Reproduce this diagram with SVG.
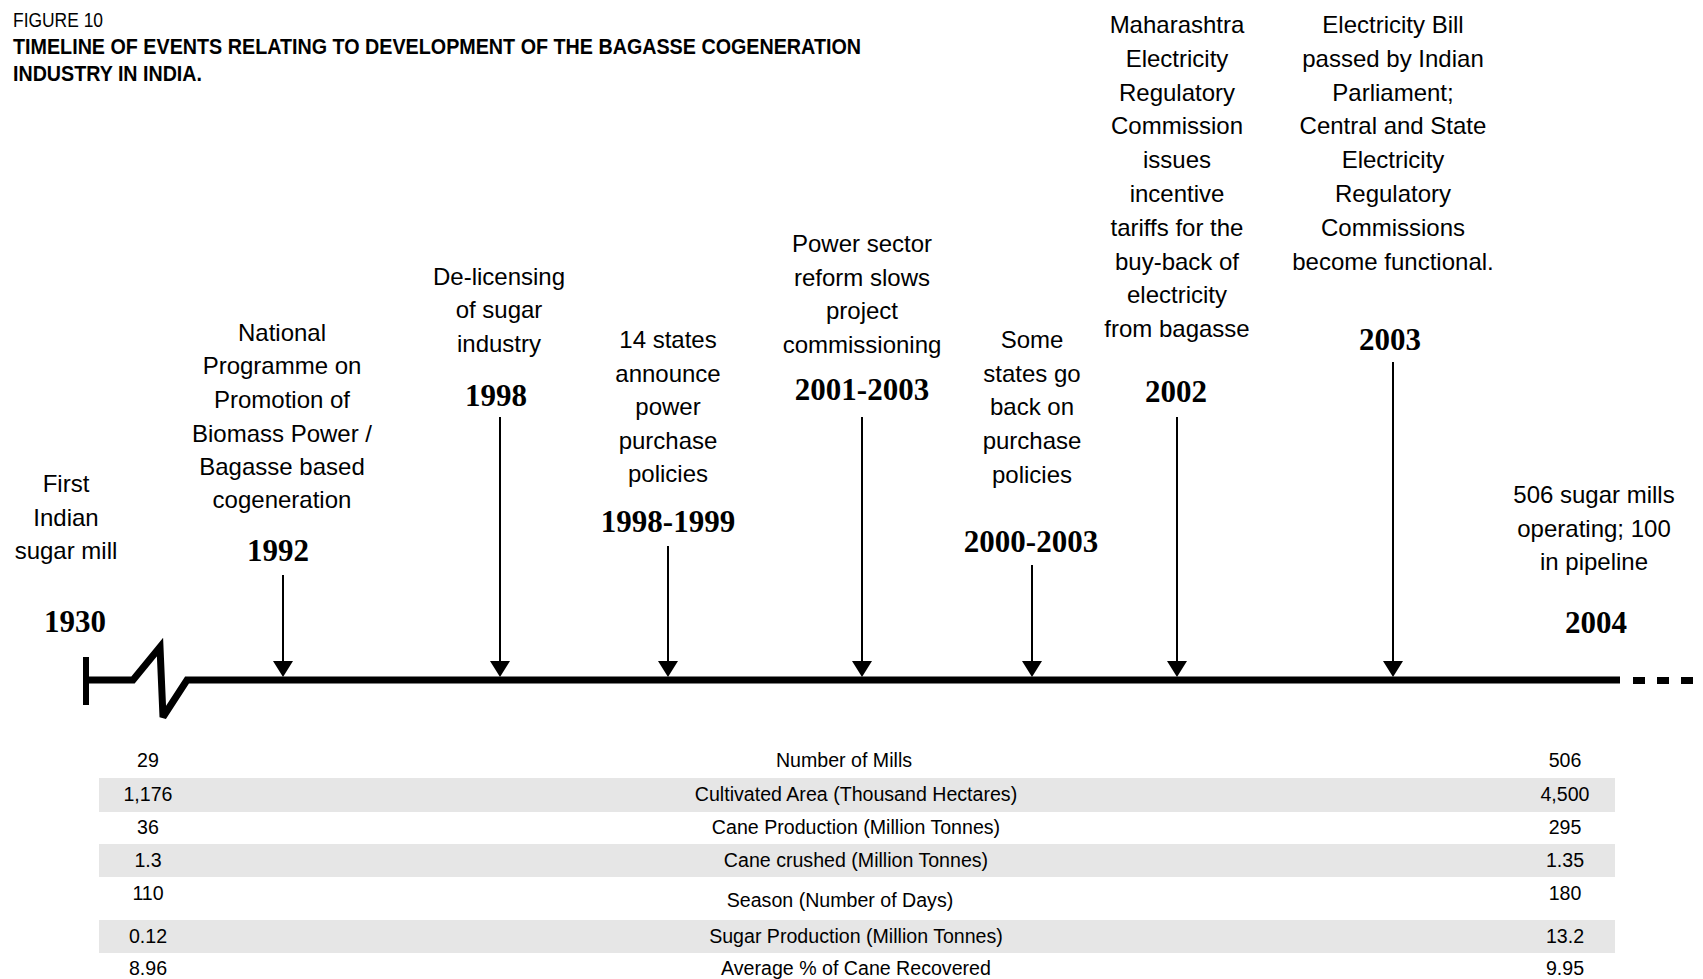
<svg xmlns="http://www.w3.org/2000/svg" width="1703" height="979" viewBox="0 0 1703 979">
<style>
.lbl{font-family:"Liberation Sans",Arial,sans-serif;font-size:24px;fill:#000;text-anchor:middle}
.yr{font-family:"Liberation Serif","Times New Roman",serif;font-size:31px;font-weight:bold;fill:#000;text-anchor:middle}
.tb{font-family:"Liberation Sans",Arial,sans-serif;font-size:19.6px;fill:#000;text-anchor:middle}
.hd{font-family:"Liberation Sans",Arial,sans-serif;fill:#000}
.band{fill:#e6e6e6}
.arr{stroke:#000;stroke-width:2;fill:none}
.head{fill:#000}
</style>
<rect width="1703" height="979" fill="#fff"/>
<g id="header">
<text class="hd" x="13" y="27" font-size="20" textLength="90" lengthAdjust="spacingAndGlyphs">FIGURE 10</text>
<text class="hd" x="13" y="54" font-size="22" font-weight="bold" textLength="848" lengthAdjust="spacingAndGlyphs">TIMELINE OF EVENTS RELATING TO DEVELOPMENT OF THE BAGASSE COGENERATION</text>
<text class="hd" x="13" y="81" font-size="22" font-weight="bold" textLength="189" lengthAdjust="spacingAndGlyphs">INDUSTRY IN INDIA.</text>
</g>
<g id="axis">
<line x1="86" y1="657" x2="86" y2="705" stroke="#000" stroke-width="6"/>
<polyline points="86,680 133,680 160,647 163,717 187,680 1620,680" fill="none" stroke="#000" stroke-width="7" stroke-linejoin="miter" stroke-miterlimit="3"/>
<line x1="1633" y1="680.5" x2="1694" y2="680.5" stroke="#000" stroke-width="7" stroke-dasharray="12 12"/>
</g>
<g id="e1930">
<text class="lbl" x="66" y="492">First</text>
<text class="lbl" x="66" y="526">Indian</text>
<text class="lbl" x="66" y="559">sugar mill</text>
<text class="yr" x="75" y="632">1930</text>
</g>
<g id="e1992">
<text class="lbl" x="282" y="341">National</text>
<text class="lbl" x="282" y="374">Programme on</text>
<text class="lbl" x="282" y="408">Promotion of</text>
<text class="lbl" x="282" y="442">Biomass Power /</text>
<text class="lbl" x="282" y="475">Bagasse based</text>
<text class="lbl" x="282" y="508">cogeneration</text>
<text class="yr" x="278" y="561">1992</text>
</g>
<g id="e1998">
<text class="lbl" x="499" y="285">De-licensing</text>
<text class="lbl" x="499" y="318">of sugar</text>
<text class="lbl" x="499" y="352">industry</text>
<text class="yr" x="496" y="406">1998</text>
</g>
<g id="e1998-1999">
<text class="lbl" x="668" y="348">14 states</text>
<text class="lbl" x="668" y="382">announce</text>
<text class="lbl" x="668" y="415">power</text>
<text class="lbl" x="668" y="449">purchase</text>
<text class="lbl" x="668" y="482">policies</text>
<text class="yr" x="668" y="532">1998-1999</text>
</g>
<g id="e2001-2003">
<text class="lbl" x="862" y="252">Power sector</text>
<text class="lbl" x="862" y="286">reform slows</text>
<text class="lbl" x="862" y="319">project</text>
<text class="lbl" x="862" y="353">commissioning</text>
<text class="yr" x="862" y="400">2001-2003</text>
</g>
<g id="e2000-2003">
<text class="lbl" x="1032" y="348">Some</text>
<text class="lbl" x="1032" y="382">states go</text>
<text class="lbl" x="1032" y="415">back on</text>
<text class="lbl" x="1032" y="449">purchase</text>
<text class="lbl" x="1032" y="483">policies</text>
<text class="yr" x="1031" y="552">2000-2003</text>
</g>
<g id="e2002">
<text class="lbl" x="1177" y="33">Maharashtra</text>
<text class="lbl" x="1177" y="67">Electricity</text>
<text class="lbl" x="1177" y="101">Regulatory</text>
<text class="lbl" x="1177" y="134">Commission</text>
<text class="lbl" x="1177" y="168">issues</text>
<text class="lbl" x="1177" y="202">incentive</text>
<text class="lbl" x="1177" y="236">tariffs for the</text>
<text class="lbl" x="1177" y="270">buy-back of</text>
<text class="lbl" x="1177" y="303">electricity</text>
<text class="lbl" x="1177" y="337">from bagasse</text>
<text class="yr" x="1176" y="402">2002</text>
</g>
<g id="e2003">
<text class="lbl" x="1393" y="33">Electricity Bill</text>
<text class="lbl" x="1393" y="67">passed by Indian</text>
<text class="lbl" x="1393" y="101">Parliament;</text>
<text class="lbl" x="1393" y="134">Central and State</text>
<text class="lbl" x="1393" y="168">Electricity</text>
<text class="lbl" x="1393" y="202">Regulatory</text>
<text class="lbl" x="1393" y="236">Commissions</text>
<text class="lbl" x="1393" y="270">become functional.</text>
<text class="yr" x="1390" y="350">2003</text>
</g>
<g id="e2004">
<text class="lbl" x="1594" y="503">506 sugar mills</text>
<text class="lbl" x="1594" y="537">operating; 100</text>
<text class="lbl" x="1594" y="570">in pipeline</text>
<text class="yr" x="1596" y="633">2004</text>
</g>
<g id="connectors">
<line class="arr" x1="283" y1="575" x2="283" y2="662"/><polygon class="head" points="273,661 293,661 283,677"/>
<line class="arr" x1="500" y1="417" x2="500" y2="662"/><polygon class="head" points="490,661 510,661 500,677"/>
<line class="arr" x1="668" y1="546" x2="668" y2="662"/><polygon class="head" points="658,661 678,661 668,677"/>
<line class="arr" x1="862" y1="417" x2="862" y2="662"/><polygon class="head" points="852,661 872,661 862,677"/>
<line class="arr" x1="1032" y1="565" x2="1032" y2="662"/><polygon class="head" points="1022,661 1042,661 1032,677"/>
<line class="arr" x1="1177" y1="417" x2="1177" y2="662"/><polygon class="head" points="1167,661 1187,661 1177,677"/>
<line class="arr" x1="1393" y1="362" x2="1393" y2="662"/><polygon class="head" points="1383,661 1403,661 1393,677"/>
</g>
<g id="table">
<rect class="band" x="99" y="778" width="1516" height="34"/>
<rect class="band" x="99" y="844" width="1516" height="33"/>
<rect class="band" x="99" y="920" width="1516" height="33"/>
<text class="tb" x="148" y="767">29</text><text class="tb" x="844" y="767">Number of Mills</text><text class="tb" x="1565" y="767">506</text>
<text class="tb" x="148" y="801">1,176</text><text class="tb" x="856" y="801">Cultivated Area (Thousand Hectares)</text><text class="tb" x="1565" y="801">4,500</text>
<text class="tb" x="148" y="834">36</text><text class="tb" x="856" y="834">Cane Production (Million Tonnes)</text><text class="tb" x="1565" y="834">295</text>
<text class="tb" x="148" y="867">1.3</text><text class="tb" x="856" y="867">Cane crushed (Million Tonnes)</text><text class="tb" x="1565" y="867">1.35</text>
<text class="tb" x="148" y="900">110</text><text class="tb" x="840" y="907">Season (Number of Days)</text><text class="tb" x="1565" y="900">180</text>
<text class="tb" x="148" y="943">0.12</text><text class="tb" x="856" y="943">Sugar Production (Million Tonnes)</text><text class="tb" x="1565" y="943">13.2</text>
<text class="tb" x="148" y="975">8.96</text><text class="tb" x="856" y="975">Average % of Cane Recovered</text><text class="tb" x="1565" y="975">9.95</text>
</g>
</svg>
